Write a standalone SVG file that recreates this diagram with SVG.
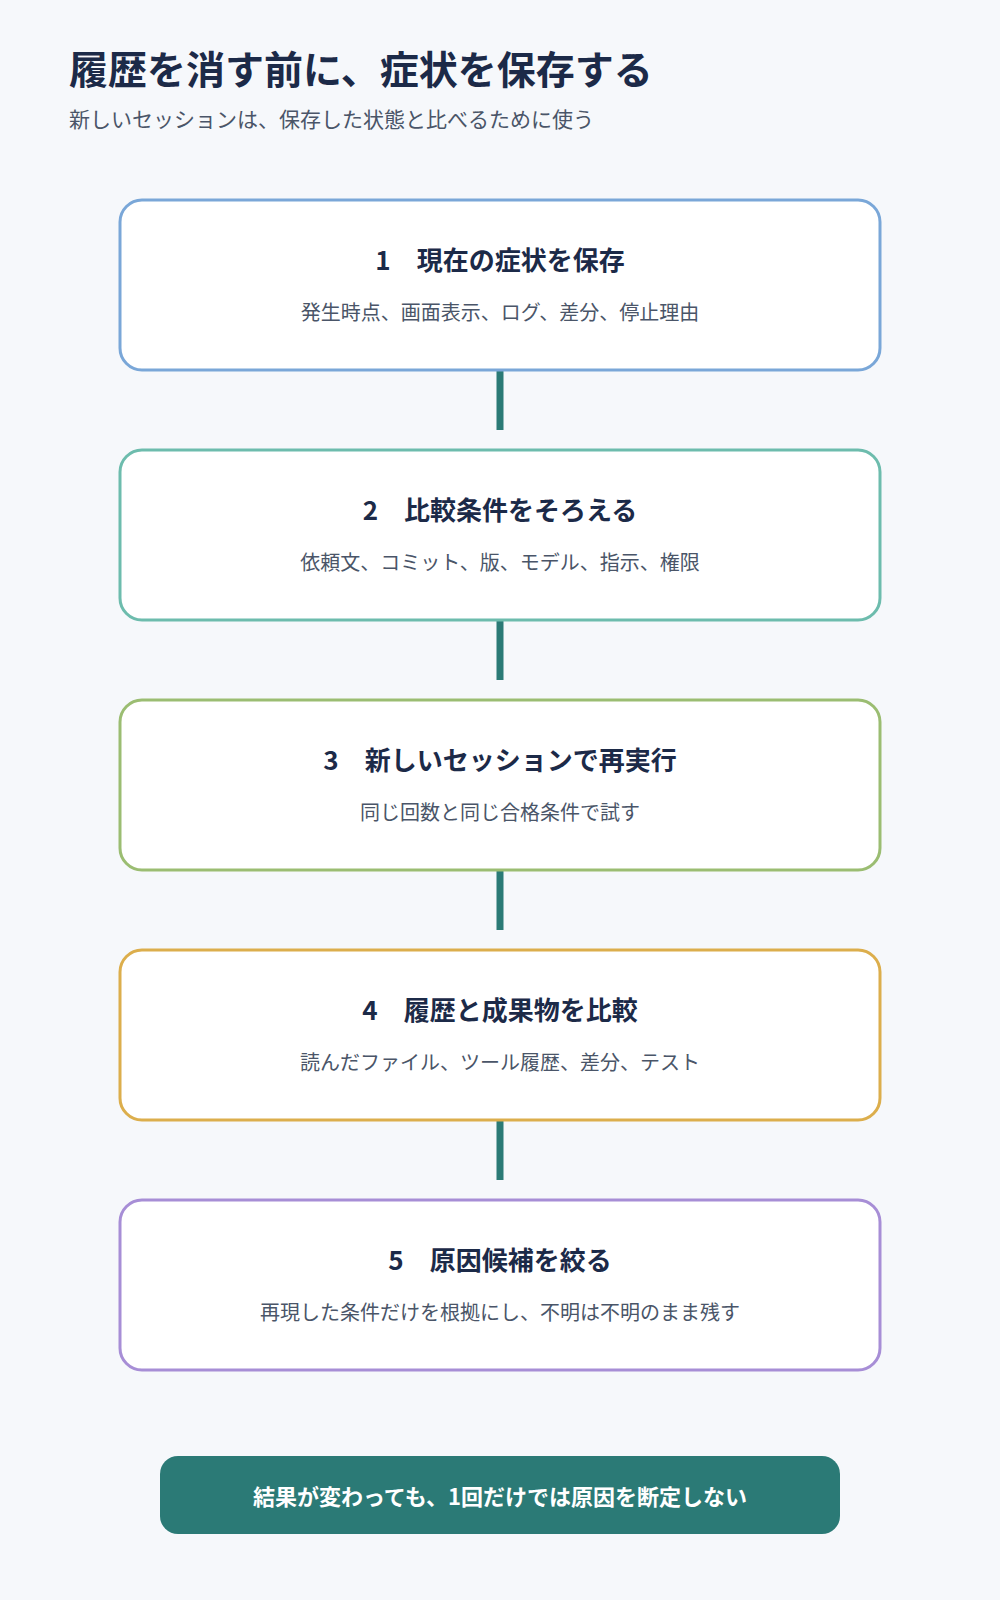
<svg xmlns="http://www.w3.org/2000/svg" width="1000" height="1600" viewBox="0 0 1000 1600">
<style>
text{font-family:"Noto Sans CJK JP","Noto Sans",sans-serif}
.t{font-size:39px;font-weight:700;fill:#1c2a48}
.st{font-size:21px;fill:#4a5568}
.box{fill:#fff;stroke-width:3}
.h{font-size:26px;font-weight:700;fill:#1c2a48;text-anchor:middle}
.d{font-size:20px;fill:#4a5568;text-anchor:middle}
.c{stroke:#2b7a76;stroke-width:7}
</style>
<rect width="1000" height="1600" fill="#f6f8fb"/>
<text class="t" x="69" y="84">履歴を消す前に、症状を保存する</text>
<text class="st" x="69" y="127">新しいセッションは、保存した状態と比べるために使う</text>
<g id="connectors">
<line class="c" x1="500" y1="370" x2="500" y2="430"/>
<line class="c" x1="500" y1="620" x2="500" y2="680"/>
<line class="c" x1="500" y1="870" x2="500" y2="930"/>
<line class="c" x1="500" y1="1120" x2="500" y2="1180"/>
</g>
<g id="n1"><rect class="box" x="120" y="200" width="760" height="170" rx="22" stroke="#7aa7d8"/><text class="h" x="500" y="270">1　現在の症状を保存</text><text class="d" x="500" y="320">発生時点、画面表示、ログ、差分、停止理由</text></g>
<g id="n2"><rect class="box" x="120" y="450" width="760" height="170" rx="22" stroke="#6dbcad"/><text class="h" x="500" y="520">2　比較条件をそろえる</text><text class="d" x="500" y="570">依頼文、コミット、版、モデル、指示、権限</text></g>
<g id="n3"><rect class="box" x="120" y="700" width="760" height="170" rx="22" stroke="#9bbd72"/><text class="h" x="500" y="770">3　新しいセッションで再実行</text><text class="d" x="500" y="820">同じ回数と同じ合格条件で試す</text></g>
<g id="n4"><rect class="box" x="120" y="950" width="760" height="170" rx="22" stroke="#dcae4c"/><text class="h" x="500" y="1020">4　履歴と成果物を比較</text><text class="d" x="500" y="1070">読んだファイル、ツール履歴、差分、テスト</text></g>
<g id="n5"><rect class="box" x="120" y="1200" width="760" height="170" rx="22" stroke="#a78ed6"/><text class="h" x="500" y="1270">5　原因候補を絞る</text><text class="d" x="500" y="1320">再現した条件だけを根拠にし、不明は不明のまま残す</text></g>
<g id="note"><rect x="160" y="1456" width="680" height="78" rx="18" fill="#2b7a76"/><text x="500" y="1505" text-anchor="middle" font-size="22" font-weight="700" fill="#fff">結果が変わっても、1回だけでは原因を断定しない</text></g>
</svg>
